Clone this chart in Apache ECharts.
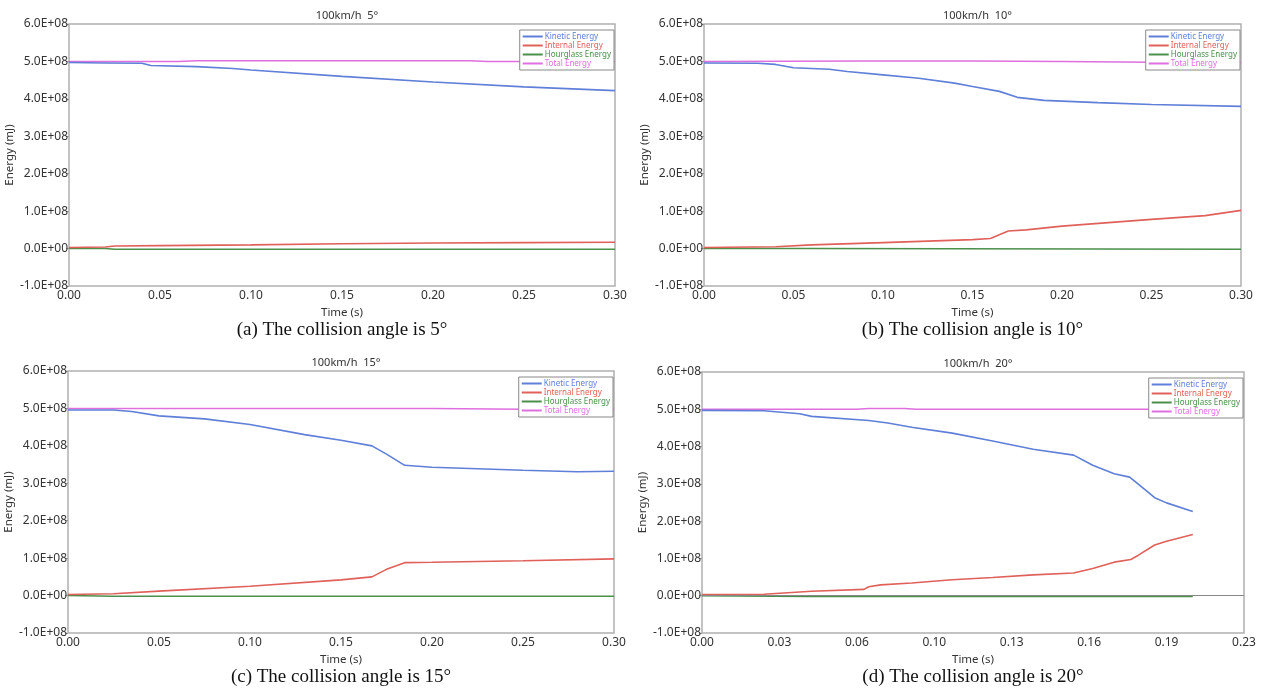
<!DOCTYPE html>
<html>
<head>
<meta charset="utf-8">
<script src="https://cdn.jsdelivr.net/npm/echarts@6/dist/echarts.min.js"></script>
<style>
  html, body { margin: 0; padding: 0; background: #fff; }
  #chart { width: 1261px; height: 693px; }
</style>
</head>
<body>
<div id="chart"></div>
<script>
// energies in units of 1E+08 mJ, time in s
const seriesNames = ['Kinetic Energy', 'Internal Energy', 'Hourglass Energy', 'Total Energy']
const seriesColors = ['#5f7fd8', '#e0605a', '#4a8f4a', '#df6fdf']

const yTickLabels = ['-1.0E+08', '0.0E+00', '1.0E+08', '2.0E+08', '3.0E+08', '4.0E+08', '5.0E+08', '6.0E+08']
const xTickLabelsABC = ['0.00', '0.05', '0.10', '0.15', '0.20', '0.25', '0.30']
const xTickLabelsD = ['0.00', '0.03', '0.06', '0.10', '0.13', '0.16', '0.19', '0.23']

const titles = ['100km/h  5°', '100km/h  10°', '100km/h  15°', '100km/h  20°']
const captions = ['(a) The collision angle is 5°', '(b) The collision angle is 10°',
  '(c) The collision angle is 15°', '(d) The collision angle is 20°']

// (a) 5 degrees
const kineticA = [[0, 4.97], [0.02, 4.96], [0.04, 4.95], [0.045, 4.89], [0.07, 4.86], [0.09, 4.81],
  [0.1, 4.77], [0.15, 4.6], [0.2, 4.45], [0.25, 4.32], [0.3, 4.22]]
const internalA = [[0, 0.03], [0.02, 0.04], [0.025, 0.07], [0.05, 0.08], [0.1, 0.1], [0.15, 0.13],
  [0.2, 0.15], [0.25, 0.16], [0.3, 0.17]]
const hourglassA = [[0, 0], [0.02, 0], [0.025, -0.02], [0.3, -0.02]]
const totalA = [[0, 5.0], [0.06, 5.0], [0.07, 5.02], [0.22, 5.02], [0.23, 5.0], [0.3, 5.0]]

// (b) 10 degrees
const kineticB = [[0, 4.96], [0.03, 4.95], [0.04, 4.92], [0.05, 4.83], [0.07, 4.79], [0.08, 4.73],
  [0.1, 4.64], [0.12, 4.55], [0.14, 4.42], [0.15, 4.33], [0.165, 4.2], [0.175, 4.04], [0.19, 3.96],
  [0.22, 3.9], [0.25, 3.85], [0.3, 3.8]]
const internalB = [[0, 0.03], [0.04, 0.05], [0.06, 0.1], [0.1, 0.16], [0.15, 0.24], [0.16, 0.27],
  [0.17, 0.47], [0.18, 0.5], [0.2, 0.6], [0.25, 0.78], [0.28, 0.88], [0.3, 1.02]]
const hourglassB = [[0, 0], [0.06, 0], [0.061, -0.02], [0.3, -0.02]]
const totalB = [[0, 5.0], [0.09, 5.01], [0.15, 5.01], [0.2, 5.0], [0.25, 4.98], [0.3, 4.97]]

// (c) 15 degrees
const kineticC = [[0, 4.96], [0.025, 4.96], [0.035, 4.92], [0.05, 4.8], [0.075, 4.72], [0.1, 4.57],
  [0.13, 4.3], [0.15, 4.15], [0.167, 4.0], [0.175, 3.78], [0.185, 3.48], [0.2, 3.43], [0.25, 3.35],
  [0.28, 3.31], [0.3, 3.32]]
const internalC = [[0, 0.03], [0.025, 0.05], [0.05, 0.12], [0.1, 0.25], [0.15, 0.42], [0.167, 0.5],
  [0.175, 0.7], [0.185, 0.88], [0.2, 0.89], [0.25, 0.93], [0.3, 0.98]]
const hourglassC = [[0, 0], [0.025, -0.02], [0.3, -0.02]]
const totalC = [[0, 5.0], [0.2, 5.0], [0.25, 4.98], [0.3, 4.98]]

// (d) 20 degrees
const kineticD = [[0, 4.97], [0.026, 4.96], [0.041, 4.88], [0.046, 4.81], [0.07, 4.7], [0.078, 4.63],
  [0.088, 4.52], [0.105, 4.36], [0.122, 4.15], [0.139, 3.93], [0.156, 3.77], [0.164, 3.5],
  [0.173, 3.27], [0.1795, 3.18], [0.183, 3.0], [0.19, 2.63], [0.195, 2.49], [0.206, 2.26]]
const internalD = [[0, 0.03], [0.026, 0.04], [0.046, 0.12], [0.068, 0.17], [0.07, 0.24],
  [0.075, 0.29], [0.088, 0.34], [0.105, 0.43], [0.122, 0.49], [0.139, 0.56], [0.156, 0.61],
  [0.164, 0.73], [0.173, 0.9], [0.18, 0.97], [0.183, 1.08], [0.19, 1.36], [0.195, 1.46], [0.206, 1.64]]
const hourglassD = [[0, 0], [0.045, -0.02], [0.206, -0.02]]
const totalD = [[0, 5.0], [0.065, 5.0], [0.07, 5.02], [0.085, 5.02], [0.09, 5.0], [0.19, 5.0], [0.195, 4.98], [0.206, 4.98]]

const panelData = [
  [kineticA, internalA, hourglassA, totalA],
  [kineticB, internalB, hourglassB, totalB],
  [kineticC, internalC, hourglassC, totalC],
  [kineticD, internalD, hourglassD, totalD]
]

const grids = [
  { left: 69, top: 24, width: 546, height: 262 },
  { left: 704, top: 24, width: 537, height: 262 },
  { left: 68, top: 371, width: 546, height: 262 },
  { left: 702, top: 372, width: 542, height: 261 }
]

const font = '"Noto Sans", "Open Sans", sans-serif'
const chart = echarts.init(document.getElementById('chart'))

const option = {
  animation: false,
  backgroundColor: '#fff',
  title: [],
  legend: [],
  grid: [],
  xAxis: [],
  yAxis: [],
  series: [],
  graphic: []
}

grids.forEach((g, i) => {
  const isD = i === 3
  const xLabels = isD ? xTickLabelsD : xTickLabelsABC
  const step = isD ? 0.0325 : 0.05
  const cx = g.left + g.width / 2

  option.grid.push({ ...g, show: true, borderColor: '#b0b0b0', borderWidth: 1.5, backgroundColor: '#fff' })

  option.title.push({
    text: titles[i], left: cx, top: g.top - 19, textAlign: 'center',
    textStyle: { fontFamily: font, fontSize: 11, fontWeight: 'normal', color: '#333' }
  })

  option.graphic.push({
    type: 'text',
    style: {
      text: captions[i], x: cx, y: g.top + g.height + 44, textAlign: 'center', textVerticalAlign: 'middle',
      font: '19px "Liberation Serif", "Times New Roman", serif', fill: '#111'
    }
  })

  option.legend.push({
    orient: 'vertical',
    right: 1261 - (g.left + g.width) + 1,
    top: g.top + 6,
    padding: [2, 3, 2, 3],
    itemGap: 0,
    itemWidth: 20,
    itemHeight: 2,
    icon: 'rect',
    borderColor: '#888',
    borderWidth: 1,
    backgroundColor: '#fff',
    selectedMode: false,
    data: seriesNames.map((n, k) => ({
      name: n + '#' + i,
      textStyle: { color: seriesColors[k] }
    })),
    formatter: name => name.split('#')[0],
    textStyle: { fontFamily: font, fontSize: 8, padding: [0, 0, 0, -3], lineHeight: 9 }
  })

  option.xAxis.push({
    type: 'value', gridIndex: i, min: 0, max: step * (xLabels.length - 1), interval: step,
    name: 'Time (s)', nameLocation: 'middle', nameGap: 21,
    nameTextStyle: { fontFamily: font, fontSize: 11.5, color: '#333' },
    axisLine: { show: false },
    axisTick: { show: false },
    splitLine: { show: false },
    axisLabel: {
      fontFamily: font, fontSize: 12, color: '#333', margin: 4,
      formatter: v => xLabels[Math.round(v / step)]
    }
  })

  option.yAxis.push({
    type: 'value', gridIndex: i, min: -1, max: 6, interval: 1,
    name: 'Energy (mJ)', nameLocation: 'middle', nameGap: 49, nameRotate: 90,
    nameTextStyle: { fontFamily: font, fontSize: 11.5, color: '#333' },
    axisLine: { show: false },
    axisTick: { show: true, length: 3, lineStyle: { color: '#999' } },
    splitLine: { show: false },
    axisLabel: {
      fontFamily: font, fontSize: 12, color: '#333', margin: 1,
      formatter: v => yTickLabels[Math.round(v + 1)]
    }
  })

  panelData[i].forEach((d, k) => {
    const s = {
      name: seriesNames[k] + '#' + i,
      type: 'line',
      xAxisIndex: i,
      yAxisIndex: i,
      data: d,
      showSymbol: false,
      symbol: 'none',
      z: k === 3 ? 3 : 4 - k,
      lineStyle: { color: seriesColors[k], width: 1.6 },
      itemStyle: { color: seriesColors[k] }
    }
    if (isD && k === 2) {
      s.markLine = {
        silent: true, symbol: 'none', label: { show: false },
        lineStyle: { color: '#888', width: 1, type: 'solid' },
        data: [{ yAxis: 0 }]
      }
    }
    option.series.push(s)
  })
})

chart.setOption(option)
</script>
</body>
</html>
